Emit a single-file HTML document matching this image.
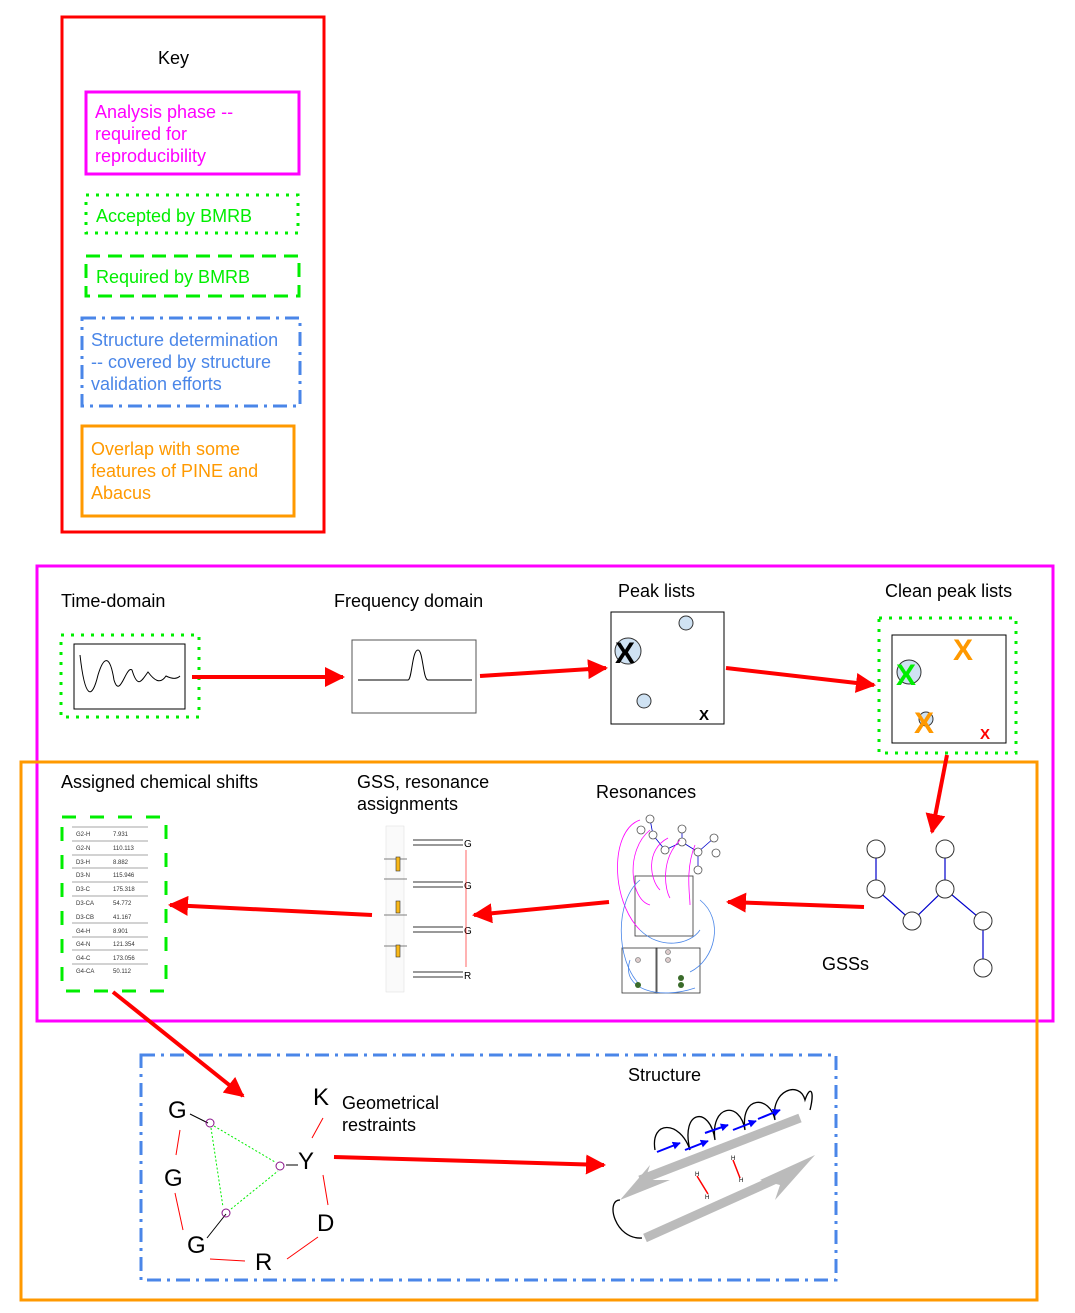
<!DOCTYPE html>
<html><head><meta charset="utf-8"><style>html,body{margin:0;padding:0;background:#fff}svg{display:block}text{font-family:"Liberation Sans",sans-serif}</style></head><body>
<svg width="1075" height="1313" viewBox="0 0 1075 1313" xmlns="http://www.w3.org/2000/svg">
<defs>
<marker id="ar" viewBox="0 0 10 10" refX="9" refY="5" markerWidth="5" markerHeight="5" orient="auto" markerUnits="strokeWidth"><path d="M0,0L10,5L0,10z" fill="#f00"/></marker>
<marker id="ab" viewBox="0 0 10 10" refX="9" refY="5" markerWidth="4" markerHeight="4" orient="auto"><path d="M0,0L10,5L0,10z" fill="#00f"/></marker>
</defs>
<!-- Key -->
<rect x="62" y="17" width="262" height="515" fill="none" stroke="#f00" stroke-width="3"/>
<text x="158" y="64" font-size="18">Key</text>
<rect x="86" y="92" width="213" height="82" fill="none" stroke="#f0f" stroke-width="3"/>
<g font-size="18" fill="#f0f"><text x="95" y="118">Analysis phase --</text><text x="95" y="140">required for</text><text x="95" y="162">reproducibility</text></g>
<rect x="86" y="195" width="212" height="38" fill="none" stroke="#0e0" stroke-width="3" stroke-dasharray="3,7"/>
<text x="96" y="222" font-size="18" fill="#0e0">Accepted by BMRB</text>
<rect x="86" y="256" width="213" height="40" fill="none" stroke="#0e0" stroke-width="3" stroke-dasharray="14,8"/>
<text x="96" y="283" font-size="18" fill="#0e0">Required by BMRB</text>
<rect x="82" y="318" width="218" height="88" fill="none" stroke="#4a86e8" stroke-width="3" stroke-dasharray="14,6,3,6"/>
<g font-size="18" fill="#4a86e8"><text x="91" y="346">Structure determination</text><text x="91" y="368">-- covered by structure</text><text x="91" y="390">validation efforts</text></g>
<rect x="82" y="426" width="212" height="90" fill="none" stroke="#f90" stroke-width="3"/>
<g font-size="18" fill="#f90"><text x="91" y="455">Overlap with some</text><text x="91" y="477">features of PINE and</text><text x="91" y="499">Abacus</text></g>

<!-- big boxes -->
<rect x="37" y="566" width="1016" height="455" fill="none" stroke="#f0f" stroke-width="3"/>
<rect x="21" y="762" width="1016" height="538" fill="none" stroke="#f90" stroke-width="3"/>
<rect x="141" y="1055" width="695" height="225" fill="none" stroke="#4a86e8" stroke-width="3" stroke-dasharray="14,6,3,6"/>

<g font-size="18">
<text x="61" y="607">Time-domain</text>
<text x="334" y="607">Frequency domain</text>
<text x="618" y="597">Peak lists</text>
<text x="885" y="597">Clean peak lists</text>
<text x="61" y="788">Assigned chemical shifts</text>
<text x="357" y="788">GSS, resonance</text><text x="357" y="810">assignments</text>
<text x="596" y="798">Resonances</text>
<text x="822" y="970">GSSs</text>
<text x="342" y="1109">Geometrical</text><text x="342" y="1131">restraints</text>
<text x="628" y="1081">Structure</text>
</g>

<!-- time domain -->
<rect x="61" y="635" width="138" height="82" fill="none" stroke="#0e0" stroke-width="3" stroke-dasharray="3,7"/>
<rect x="74" y="644" width="111" height="65" fill="#fff" stroke="#000"/>
<path d="M80,655 C85,700 92,700 98,675 C104,655 110,655 114,680 C120,700 126,665 132,670 C138,690 142,680 148,672 C154,680 160,685 166,676 C170,678 176,680 180,676" fill="none" stroke="#000"/>
<!-- freq -->
<rect x="352" y="640" width="124" height="73" fill="#fff" stroke="#555"/>
<path d="M358,680 L408,680 C412,680 412,650 418,650 C423,650 423,680 428,680 L472,680" fill="none" stroke="#000"/>
<!-- peak lists -->
<rect x="611" y="612" width="113" height="112" fill="#fff" stroke="#000"/>
<circle cx="686" cy="623" r="7" fill="#cfe2f3" stroke="#333"/>
<circle cx="628" cy="651" r="13" fill="#cfe2f3" stroke="#333"/>
<text x="615" y="663" font-size="30" font-weight="bold">X</text>
<circle cx="644" cy="701" r="7" fill="#cfe2f3" stroke="#333"/>
<text x="699" y="720" font-size="15" font-weight="bold">X</text>
<!-- clean peak -->
<rect x="879" y="618" width="137" height="135" fill="none" stroke="#0e0" stroke-width="3" stroke-dasharray="3,7"/>
<rect x="892" y="635" width="114" height="108" fill="#fff" stroke="#000"/>
<text x="953" y="660" font-size="30" font-weight="bold" fill="#f90">X</text>
<circle cx="909" cy="672" r="12" fill="#cfe2f3" stroke="#333"/>
<text x="896" y="685" font-size="30" font-weight="bold" fill="#0e0">X</text>
<circle cx="926" cy="719" r="7" fill="#cfe2f3" stroke="#333"/>
<text x="914" y="733" font-size="30" font-weight="bold" fill="#f90">X</text>
<text x="980" y="739" font-size="15" font-weight="bold" fill="#f00">X</text>

<!-- red arrows -->
<g stroke="#f00" stroke-width="4" fill="none" marker-end="url(#ar)">
<line x1="192" y1="677" x2="343" y2="677"/>
<line x1="480" y1="676" x2="606" y2="668"/>
<line x1="726" y1="668" x2="874" y2="685"/>
<line x1="947" y1="755" x2="932" y2="832"/>
<line x1="864" y1="907" x2="728" y2="902"/>
<line x1="609" y1="902" x2="474" y2="915"/>
<line x1="372" y1="915" x2="170" y2="905"/>
<line x1="113" y1="992" x2="243" y2="1096"/>
<line x1="334" y1="1157" x2="604" y2="1165"/>
</g>

<!-- assigned chemical shifts -->
<rect x="62" y="817" width="104" height="174" fill="none" stroke="#0e0" stroke-width="3" stroke-dasharray="14,14"/>
<g font-size="6" fill="#333">
<text x="76" y="836">G2-H</text><text x="113" y="836">7.931</text>
<text x="76" y="850">G2-N</text><text x="113" y="850">110.113</text>
<text x="76" y="864">D3-H</text><text x="113" y="864">8.882</text>
<text x="76" y="877">D3-N</text><text x="113" y="877">115.946</text>
<text x="76" y="891">D3-C</text><text x="113" y="891">175.318</text>
<text x="76" y="905">D3-CA</text><text x="113" y="905">54.772</text>
<text x="76" y="919">D3-CB</text><text x="113" y="919">41.167</text>
<text x="76" y="933">G4-H</text><text x="113" y="933">8.901</text>
<text x="76" y="946">G4-N</text><text x="113" y="946">121.354</text>
<text x="76" y="960">G4-C</text><text x="113" y="960">173.056</text>
<text x="76" y="973">G4-CA</text><text x="113" y="973">50.112</text>
</g>
<g stroke="#888" stroke-width="0.7"><line x1="72" y1="827" x2="148" y2="827"/><line x1="72" y1="841" x2="148" y2="841"/><line x1="72" y1="855" x2="148" y2="855"/><line x1="72" y1="868" x2="148" y2="868"/><line x1="72" y1="882" x2="148" y2="882"/><line x1="72" y1="896" x2="148" y2="896"/><line x1="72" y1="923" x2="148" y2="923"/><line x1="72" y1="937" x2="148" y2="937"/><line x1="72" y1="950" x2="148" y2="950"/><line x1="72" y1="964" x2="148" y2="964"/></g>

<!-- GSS assignments -->
<rect x="386" y="826" width="18" height="166" fill="#fafafa" stroke="#ddd" stroke-width="0.5"/>
<g stroke="#555" stroke-width="0.8"><line x1="384" y1="859" x2="407" y2="859"/><line x1="384" y1="879" x2="407" y2="879"/><line x1="384" y1="915" x2="407" y2="915"/><line x1="384" y1="946" x2="407" y2="946"/></g>
<g stroke="#333" fill="#cfe2f3"><path d="M413,840h50M413,845h50" /><path d="M413,882h50M413,887h50"/><path d="M413,927h50M413,932h50"/><path d="M413,972h50M413,977h50"/></g>
<g font-size="10"><text x="464" y="847">G</text><text x="464" y="889">G</text><text x="464" y="934">G</text><text x="464" y="979">R</text></g>
<line x1="466" y1="850" x2="466" y2="967" stroke="#f00" stroke-width="0.6"/>
<g fill="#f9b818" stroke="#333" stroke-width="0.6"><rect x="396" y="857" width="4" height="14"/><rect x="396" y="901" width="4" height="12"/><rect x="396" y="945" width="4" height="12"/></g>

<!-- Resonances -->
<g fill="none" stroke-width="0.8">
<g stroke="#333"><rect x="635" y="876" width="58" height="60"/><rect x="622" y="948" width="35" height="45"/><rect x="656" y="948" width="44" height="45"/></g>
<g stroke="#00c"><path d="M653,835L650,819M653,835L665,850M665,850L682,842M682,842L682,829M682,842L698,852M698,852L714,838M698,852L698,870"/></g>
<g fill="#fff" stroke="#555"><circle cx="650" cy="819" r="4"/><circle cx="653" cy="835" r="4"/><circle cx="665" cy="850" r="4"/><circle cx="682" cy="842" r="4"/><circle cx="682" cy="829" r="4"/><circle cx="698" cy="852" r="4"/><circle cx="714" cy="838" r="4"/><circle cx="698" cy="870" r="4"/><circle cx="641" cy="830" r="4"/><circle cx="716" cy="853" r="4"/></g>
<g stroke="#f0f"><path d="M640,820C610,830 610,900 640,930"/><path d="M650,830C625,850 630,900 650,905"/><path d="M668,838C645,850 650,880 660,890"/><path d="M680,840C660,860 665,890 670,898"/><path d="M695,845C685,870 690,895 690,905"/></g>
<g stroke="#4a86e8"><path d="M640,880C615,900 615,960 640,985"/><path d="M700,900C725,920 715,960 690,972"/><path d="M640,930C660,950 690,945 700,930"/><path d="M630,960C620,990 660,1000 695,988"/></g>
<g fill="#dcc" stroke="#888"><circle cx="638" cy="960" r="2.5"/><circle cx="668" cy="952" r="2.5"/><circle cx="668" cy="960" r="2.5"/></g>
<g fill="#3a6b2a" stroke="none"><circle cx="638" cy="985" r="3"/><circle cx="681" cy="978" r="3"/><circle cx="681" cy="985" r="3"/></g>
</g>

<!-- GSSs -->
<g stroke="#00c" fill="none" stroke-width="1.2"><path d="M876,849L876,889L912,921L945,889L945,849M945,889L983,921L983,968"/></g>
<g fill="#fff" stroke="#333" font-size="4"><circle cx="876" cy="849" r="9"/><circle cx="876" cy="889" r="9"/><circle cx="912" cy="921" r="9"/><circle cx="945" cy="889" r="9"/><circle cx="945" cy="849" r="9"/><circle cx="983" cy="921" r="9"/><circle cx="983" cy="968" r="9"/></g>

<!-- restraints -->
<g font-size="24"><text x="168" y="1118">G</text><text x="164" y="1186">G</text><text x="187" y="1253">G</text><text x="255" y="1270">R</text><text x="317" y="1231">D</text><text x="298" y="1169">Y</text><text x="313" y="1105">K</text></g>
<g stroke="#f00" fill="none" stroke-width="1"><path d="M180,1130L176,1155M175,1193L183,1230M210,1259L245,1261M287,1259L318,1237M328,1205L323,1175M312,1138L323,1118"/></g>
<g stroke="#000" fill="none"><path d="M190,1114L208,1123M286,1165L298,1165M226,1214L207,1238"/></g>
<g fill="none" stroke="#818"><circle cx="210" cy="1123" r="4"/><circle cx="280" cy="1166" r="4"/><circle cx="226" cy="1213" r="4"/></g>
<g stroke="#0e0" stroke-dasharray="2,2" fill="none"><path d="M214,1126L275,1162M211,1128L223,1207M231,1209L278,1171"/></g>

<!-- structure -->
<g stroke="#bbb" stroke-width="9" fill="none"><line x1="640" y1="1180" x2="800" y2="1118"/><line x1="645" y1="1238" x2="785" y2="1175"/></g>
<path d="M620,1200L650,1165L645,1180L670,1180z" fill="#bbb"/>
<path d="M815,1155L775,1200L780,1185L760,1180z" fill="#bbb"/>
<path d="M642,1238C615,1240 605,1200 620,1200 M655,1150C650,1120 680,1120 690,1150C680,1110 710,1105 715,1140C710,1105 740,1100 745,1130C740,1095 770,1095 775,1120C770,1090 800,1080 805,1100C810,1085 815,1090 810,1110" fill="none" stroke="#000" stroke-width="1.3"/>
<g stroke="#00f" stroke-width="2" marker-end="url(#ab)"><line x1="657" y1="1152" x2="680" y2="1143"/><line x1="685" y1="1150" x2="708" y2="1141"/><line x1="705" y1="1133" x2="728" y2="1125"/><line x1="733" y1="1130" x2="756" y2="1121"/><line x1="758" y1="1119" x2="780" y2="1110"/></g>
<g stroke="#f00" stroke-width="1.5"><line x1="697" y1="1176" x2="708" y2="1194"/><line x1="733" y1="1160" x2="740" y2="1178"/></g>
<g font-size="6"><text x="695" y="1176">H</text><text x="705" y="1199">H</text><text x="731" y="1160">H</text><text x="739" y="1182">H</text></g>
</svg>
</body></html>
